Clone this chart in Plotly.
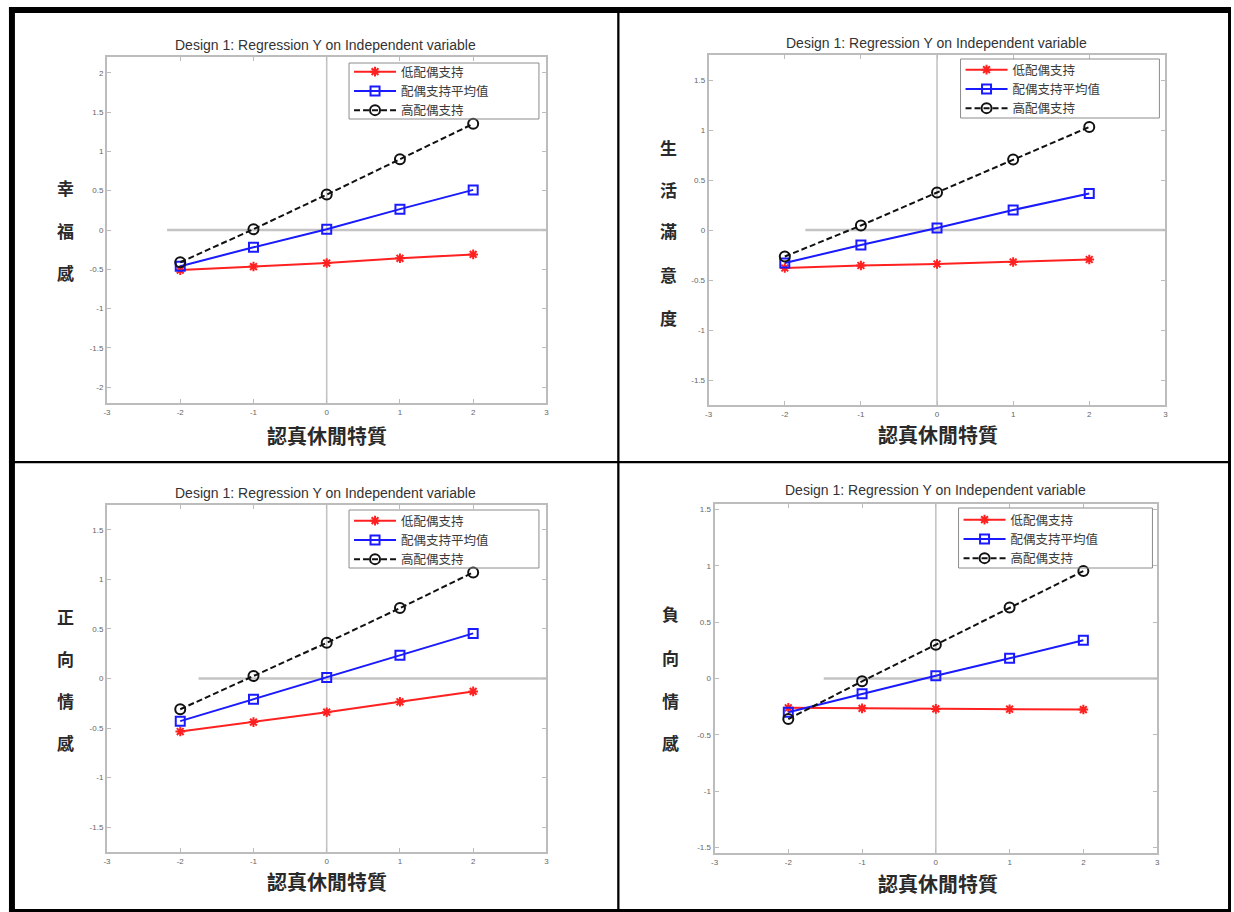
import plotly.graph_objects as go

W, H = 1234, 912

# ---------------- data ----------------
x_vals = [-2, -1, 0, 1, 2]
series_names = ["低配偶支持", "配偶支持平均值", "高配偶支持"]
title_text = "Design 1: Regression Y on Independent variable"
x_label = "認真休閒特質"

# panel 1: 幸福感
p1_low = [-0.51, -0.465, -0.42, -0.36, -0.31]
p1_mean = [-0.46, -0.22, 0.01, 0.265, 0.51]
p1_high = [-0.41, 0.01, 0.45, 0.90, 1.35]
# panel 2: 生活滿意度
p2_low = [-0.38, -0.355, -0.34, -0.32, -0.295]
p2_mean = [-0.33, -0.15, 0.02, 0.20, 0.365]
p2_high = [-0.265, 0.045, 0.375, 0.705, 1.03]
# panel 3: 正向情感
p3_low = [-0.535, -0.44, -0.34, -0.235, -0.13]
p3_mean = [-0.43, -0.21, 0.01, 0.235, 0.455]
p3_high = [-0.31, 0.025, 0.36, 0.71, 1.07]
# panel 4: 負向情感
p4_low = [-0.26, -0.265, -0.27, -0.273, -0.276]
p4_mean = [-0.30, -0.135, 0.025, 0.18, 0.34]
p4_high = [-0.36, -0.025, 0.30, 0.63, 0.955]

y_labels = ["幸福感", "生活滿意度", "正向情感", "負向情感"]
y_ranges = [[-2.2, 2.2], [-1.75, 1.75], [-1.75, 1.75], [-1.55, 1.55]]
y_tick_sets = [
    [-2, -1.5, -1, -0.5, 0, 0.5, 1, 1.5, 2],
    [-1.5, -1, -0.5, 0, 0.5, 1, 1.5],
    [-1.5, -1, -0.5, 0, 0.5, 1, 1.5],
    [-1.5, -1, -0.5, 0, 0.5, 1, 1.5],
]
x_ticks = [-3, -2, -1, 0, 1, 2, 3]
x_range = [-3, 3]
zero_line_start = [-2.18, -1.73, -1.75, -1.52]

panels = [
    (p1_low, p1_mean, p1_high),
    (p2_low, p2_mean, p2_high),
    (p3_low, p3_mean, p3_high),
    (p4_low, p4_mean, p4_high),
]

# ---------------- layout geometry (pixels) ----------------
def px(x):
    return x / W

def py(y):
    return 1 - y / H

# axes box: left, right, top, bottom
axes_box = [
    (103.6, 545.5, 57, 403),
    (708.7, 1168, 55, 405),
    (103.6, 545.5, 505, 852),
    (714.6, 1159.7, 504, 853),
]
title_pos = [(323, 45), (938, 43), (323, 493), (937, 490)]
xlabel_pos = [(325, 435), (939, 434), (325, 881), (939, 883)]
ylabel_x = [62, 668, 62, 670]
ylabel_ys = [
    [188, 230, 272],
    [147, 189, 231, 274, 317],
    [616, 658, 700, 742],
    [613, 657, 700, 742],
]
# legend frame: left, right, top, bottom
legend_frame = [(347, 538, 63, 119), (962, 1162, 59, 118),
                (347, 538, 510, 568), (960, 1155, 508, 568)]
legend_first_row = [72, 70, 521, 520]

styles = [
    dict(color="#ff2020", dash="solid", symbol="asterisk-open", size=8),
    dict(color="#1a1aff", dash="solid", symbol="square-open", size=9),
    dict(color="#111111", dash="6px,3px", symbol="circle-open", size=10),
]

fig = go.Figure()
layout = {}
annotations = []
shapes = []
axis_gray = "#bcbcbc"
tick_font = dict(family="Arial", size=8, color="#666666")

for i, data in enumerate(panels):
    n = "" if i == 0 else str(i + 1)
    xa, ya = "x" + n, "y" + n
    leg = "legend" if i == 0 else "legend" + str(i + 1)
    l, r, t, b = axes_box[i]
    # zero reference lines (gray)
    fig.add_trace(go.Scatter(x=[0, 0], y=y_ranges[i], mode="lines",
                             line=dict(color="#c4c4c4", width=1.6),
                             xaxis=xa, yaxis=ya, showlegend=False, hoverinfo="skip"))
    fig.add_trace(go.Scatter(x=[zero_line_start[i], x_range[1]], y=[0, 0], mode="lines",
                             line=dict(color="#c4c4c4", width=2.4),
                             xaxis=xa, yaxis=ya, showlegend=False, hoverinfo="skip"))
    for k, yv in enumerate(data):
        st = styles[k]
        fig.add_trace(go.Scatter(
            x=x_vals, y=yv, mode="lines+markers", name=series_names[k],
            line=dict(color=st["color"], width=2, dash=st["dash"]),
            marker=dict(symbol=st["symbol"], size=st["size"], color=st["color"],
                        line=dict(color=st["color"], width=2)),
            xaxis=xa, yaxis=ya, legend=leg,
        ))
    layout["xaxis" + n] = dict(
        domain=[px(l), px(r)], range=x_range, anchor=ya,
        tickmode="array", tickvals=x_ticks, ticktext=[f"{v:g}" for v in x_ticks],
        ticks="inside", ticklen=4, tickcolor=axis_gray, tickwidth=1,
        showline=True, linecolor=axis_gray, linewidth=2, mirror="ticks",
        showgrid=False, zeroline=False, tickfont=tick_font, fixedrange=True,
    )
    layout["yaxis" + n] = dict(
        domain=[py(b), py(t)], range=y_ranges[i], anchor=xa,
        tickmode="array", tickvals=y_tick_sets[i],
        ticktext=[f"{v:g}" for v in y_tick_sets[i]],
        ticks="inside", ticklen=4, tickcolor=axis_gray, tickwidth=1,
        showline=True, linecolor=axis_gray, linewidth=2, mirror="ticks",
        showgrid=False, zeroline=False, tickfont=tick_font, fixedrange=True,
    )
    fl, fr, ft, fb = legend_frame[i]
    layout[leg] = dict(
        x=px(fl), y=py(legend_first_row[i] - 15), xanchor="left", yanchor="top",
        xref="paper", yref="paper",
        bgcolor="rgba(255,255,255,0)", borderwidth=0,
        font=dict(family="Noto Sans CJK TC", size=12.5, color="#3a3a3a"),
        tracegroupgap=0, itemwidth=42,
    )
    # legend frame
    shapes.append(dict(type="rect", xref="paper", yref="paper",
                       x0=px(fl), x1=px(fr), y0=py(fb), y1=py(ft),
                       line=dict(color="#8c8c8c", width=1), fillcolor="rgba(0,0,0,0)",
                       layer="above"))
    # title
    tx, ty = title_pos[i]
    annotations.append(dict(text=title_text, x=px(tx), y=py(ty), xref="paper", yref="paper",
                            showarrow=False, xanchor="center", yanchor="middle",
                            font=dict(family="Arial", size=14, color="#333333")))
    # x label
    lx, ly = xlabel_pos[i]
    annotations.append(dict(text=x_label, x=px(lx), y=py(ly), xref="paper", yref="paper",
                            showarrow=False, xanchor="center", yanchor="middle",
                            font=dict(family="Noto Sans CJK TC", size=20, color="#2a2a2a",
                                      weight=700)))
    # y label, one character per line
    for ch, cy in zip(y_labels[i], ylabel_ys[i]):
        annotations.append(dict(text=ch, x=px(ylabel_x[i]), y=py(cy), xref="paper", yref="paper",
                                showarrow=False, xanchor="center", yanchor="middle",
                                font=dict(family="Noto Sans CJK TC", size=17, color="#2a2a2a",
                                          weight=700)))

# table borders (black)
def rect(x0, y0, x1, y1):
    return dict(type="rect", xref="paper", yref="paper",
                x0=px(x0), x1=px(x1), y0=py(y1), y1=py(y0),
                fillcolor="black", line=dict(width=0), layer="above")

shapes += [
    rect(5, 7, 1234, 13),      # top
    rect(5, 7, 11, 912),       # left
    rect(1231, 7, 1234, 912),  # right
    rect(5, 909, 1234, 912),   # bottom
    rect(616.7, 7, 619, 912),  # middle vertical
    rect(5, 461, 1234, 463.3), # middle horizontal
]

fig.update_layout(
    width=W, height=H,
    margin=dict(l=0, r=0, t=0, b=0),
    paper_bgcolor="white", plot_bgcolor="white",
    annotations=annotations, shapes=shapes,
    hovermode=False,
    **layout,
)

fig.write_html(
    "out.html",
    config={"displayModeBar": False},
    post_script="document.body.style.margin='0';document.body.style.overflow='hidden';",
)
